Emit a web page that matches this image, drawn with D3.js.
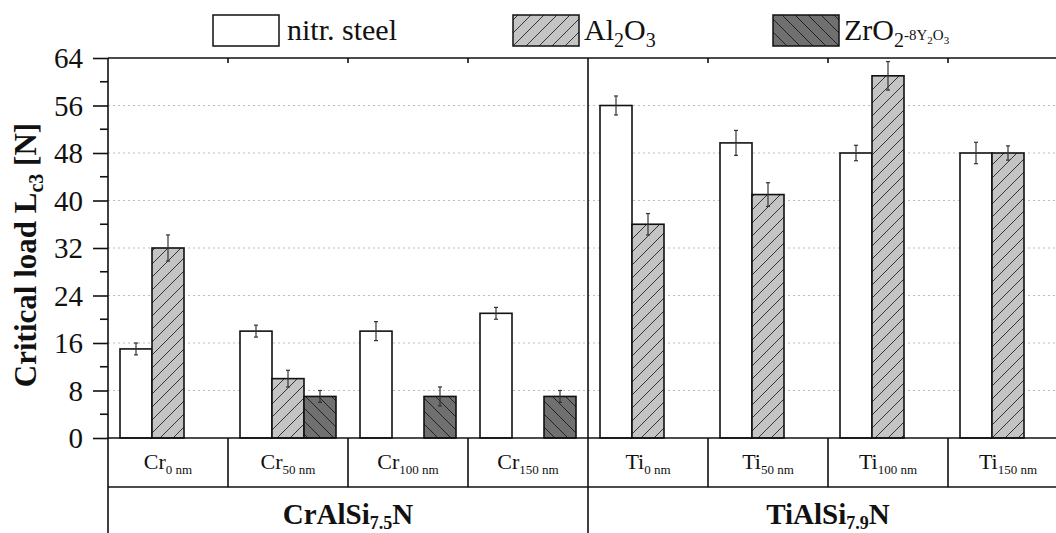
<!DOCTYPE html>
<html>
<head>
<meta charset="utf-8">
<script src="https://cdn.jsdelivr.net/npm/d3@7"></script>
<style>
body { margin:0; background:#fff; }
svg text { font-family:"Liberation Serif","Times New Roman",serif; }
</style>
</head>
<body>
<svg id="chart"></svg>
<script>
// data
var catElems = ["Cr","Cr","Cr","Cr","Ti","Ti","Ti","Ti"];
var catSubs = ["0 nm","50 nm","100 nm","150 nm","0 nm","50 nm","100 nm","150 nm"];
var groupNames = ["CrAlSi","TiAlSi"];
var groupSubs = ["7.5","7.9"];
var series = ["steel","al2o3","zro2"];
var steelVals = [15, 18, 18, 21, 56, 49.7, 48, 48];
var steelErr  = [1, 1, 1.6, 1, 1.6, 2.1, 1.3, 1.8];
var al2o3Vals = [32, 10, null, null, 36, 41, 61, 48];
var al2o3Err  = [2.2, 1.4, null, null, 1.8, 2, 2.4, 1.2];
var zro2Vals  = [null, 7, 7, 7, null, null, null, null];
var zro2Err   = [null, 1, 1.6, 1, null, null, null, null];
var yTicks = [0, 8, 16, 24, 32, 40, 48, 56, 64];

var width = 1056, height = 533;
var margins = {top:58, left:108, plotBottom:438, catRow:487};
var plotW = 960; // right border falls off the canvas like the original
var serif = "Liberation Serif, Times New Roman, serif";

var svg = d3.select("#chart").attr("width", width).attr("height", height)
    .attr("font-family", serif);

var defs = svg.append("defs");
var p1 = defs.append("pattern").attr("id","hatchAl").attr("patternUnits","userSpaceOnUse")
    .attr("width",13).attr("height",13);
p1.append("rect").attr("width",13).attr("height",13).attr("fill","#c4c4c4");
p1.append("path").attr("d","M-3,3 L3,-3 M0,13 L13,0 M10,16 L16,10")
    .attr("stroke","#333").attr("stroke-width",1);
var p2 = defs.append("pattern").attr("id","hatchZr").attr("patternUnits","userSpaceOnUse")
    .attr("width",13).attr("height",13);
p2.append("rect").attr("width",13).attr("height",13).attr("fill","#707070");
p2.append("path").attr("d","M-3,10 L3,16 M0,0 L13,13 M10,-3 L16,3")
    .attr("stroke","#222").attr("stroke-width",1);

var fills = {steel:"#fff", al2o3:"url(#hatchAl)", zro2:"url(#hatchZr)"};

var cats = d3.range(catElems.length);
var xScale = d3.scaleBand().domain(cats).range([margins.left, margins.left+plotW]);
var xInner = d3.scaleBand().domain(series).range([0, xScale.bandwidth()]).paddingOuter(0.375);
var yScale = d3.scaleLinear().domain([0,64]).range([margins.plotBottom, margins.top]);

// grid
svg.append("g").selectAll("line")
    .data(yTicks.filter(function(t){ return t>0 && t<64; }))
    .enter().append("line")
    .attr("x1", margins.left).attr("x2", margins.left+plotW)
    .attr("y1", function(d){ return yScale(d); })
    .attr("y2", function(d){ return yScale(d); })
    .attr("stroke","#bdbdbd").attr("stroke-width",1.2)
    .attr("stroke-dasharray","2,3");

// bars
var rows = [];
cats.forEach(function(i){
    rows.push({cat:i, s:"steel", v:steelVals[i], e:steelErr[i]});
    rows.push({cat:i, s:"al2o3", v:al2o3Vals[i], e:al2o3Err[i]});
    rows.push({cat:i, s:"zro2", v:zro2Vals[i], e:zro2Err[i]});
});
rows = rows.filter(function(r){ return r.v != null; });

svg.append("g").selectAll("rect").data(rows).enter().append("rect")
    .attr("x", function(r){ return xScale(r.cat)+xInner(r.s); })
    .attr("y", function(r){ return yScale(r.v); })
    .attr("width", xInner.bandwidth())
    .attr("height", function(r){ return yScale(0)-yScale(r.v); })
    .attr("fill", function(r){ return fills[r.s]; })
    .attr("stroke","#111").attr("stroke-width",1.6);

// error bars
var eb = svg.append("g").attr("stroke","#333").attr("stroke-width",1.2);
rows.forEach(function(r){
    var cx = xScale(r.cat)+xInner(r.s)+xInner.bandwidth()/2;
    var y1 = yScale(r.v+r.e), y2 = yScale(r.v-r.e);
    eb.append("line").attr("x1",cx).attr("x2",cx).attr("y1",y1).attr("y2",y2);
    eb.append("line").attr("x1",cx-2).attr("x2",cx+2).attr("y1",y1).attr("y2",y1);
    eb.append("line").attr("x1",cx-2).attr("x2",cx+2).attr("y1",y2).attr("y2",y2);
});

// frame and table lines
var frame = svg.append("g").attr("stroke","#111").attr("stroke-width",1.6);
frame.append("line").attr("x1",margins.left).attr("x2",margins.left+plotW)
    .attr("y1",margins.top).attr("y2",margins.top);
frame.append("line").attr("x1",margins.left).attr("x2",margins.left+plotW)
    .attr("y1",margins.plotBottom).attr("y2",margins.plotBottom);
frame.append("line").attr("x1",margins.left).attr("x2",margins.left+plotW)
    .attr("y1",margins.catRow).attr("y2",margins.catRow);
frame.append("line").attr("x1",margins.left).attr("x2",margins.left)
    .attr("y1",margins.top).attr("y2",height);
frame.append("line").attr("x1",xScale(4)).attr("x2",xScale(4))
    .attr("y1",margins.top).attr("y2",height);
cats.forEach(function(i){
    if (i===0 || i===4) return;
    var x = xScale(i);
    frame.append("line").attr("x1",x).attr("x2",x)
        .attr("y1",margins.plotBottom).attr("y2",margins.catRow);
    frame.append("line").attr("x1",x).attr("x2",x)
        .attr("y1",margins.top).attr("y2",margins.top+5);
});

// y axis
var yAxis = d3.axisLeft(yScale).tickValues(yTicks).tickSize(15).tickPadding(10);
var ya = svg.append("g").attr("transform","translate("+margins.left+",0)").call(yAxis);
ya.attr("font-family", serif);
ya.select(".domain").remove();
ya.selectAll(".tick line").attr("stroke","#111").attr("stroke-width",1.6);
ya.selectAll(".tick text").attr("font-size",29).attr("fill","#111").attr("dy","0.34em");
svg.append("g").selectAll("line")
    .data(yTicks.slice(0,-1).map(function(t){ return t+4; }))
    .enter().append("line")
    .attr("x1",margins.left-8).attr("x2",margins.left)
    .attr("y1",function(d){ return yScale(d); }).attr("y2",function(d){ return yScale(d); })
    .attr("stroke","#111").attr("stroke-width",1.6);

// y label
var yl = svg.append("text")
    .attr("transform","translate(36,255) rotate(-90)")
    .attr("text-anchor","middle").attr("font-weight","bold")
    .attr("font-size",31).attr("fill","#111");
yl.append("tspan").text("Critical load L");
yl.append("tspan").text("c3").attr("font-size",20).attr("dy",7);
yl.append("tspan").text(" [N]").attr("dy",-7);

// category labels
cats.forEach(function(i){
    var t = svg.append("text")
        .attr("x", xScale(i)+xScale.bandwidth()/2).attr("y",469)
        .attr("text-anchor","middle").attr("font-size",22).attr("fill","#111");
    t.append("tspan").text(catElems[i]);
    t.append("tspan").text(catSubs[i]).attr("font-size",13).attr("dy",5);
});

// group labels
groupNames.forEach(function(g, k){
    var cx = xScale(k*4) + xScale.bandwidth()*2;
    var t = svg.append("text").attr("x",cx).attr("y",524)
        .attr("text-anchor","middle").attr("font-size",29)
        .attr("font-weight","bold").attr("fill","#111");
    t.append("tspan").text(g);
    t.append("tspan").text(groupSubs[k]).attr("font-size",18).attr("dy",5);
    t.append("tspan").text("N").attr("dy",-5);
});

// legend
var legX = [213, 513, 773];
var leg = svg.append("g");
series.forEach(function(s, k){
    leg.append("rect").attr("x",legX[k]).attr("y",15).attr("width",66).attr("height",31)
        .attr("fill",fills[s]).attr("stroke","#111").attr("stroke-width",1.5);
});
leg.append("text").attr("x",287).attr("y",40).attr("font-size",30).attr("fill","#111")
    .text("nitr. steel");
var l2 = leg.append("text").attr("x",584).attr("y",40).attr("font-size",30).attr("fill","#111");
l2.append("tspan").text("Al");
l2.append("tspan").text("2").attr("font-size",20).attr("dy",7);
l2.append("tspan").text("O").attr("dy",-7);
l2.append("tspan").text("3").attr("font-size",20).attr("dy",7);
var l3 = leg.append("text").attr("x",844).attr("y",40).attr("font-size",30).attr("fill","#111");
l3.append("tspan").text("ZrO");
l3.append("tspan").text("2").attr("font-size",20).attr("dy",7);
l3.append("tspan").text("-8Y").attr("font-size",15).attr("dy",-7);
l3.append("tspan").text("2").attr("font-size",11).attr("dy",4);
l3.append("tspan").text("O").attr("font-size",15).attr("dy",-4);
l3.append("tspan").text("3").attr("font-size",11).attr("dy",4);
</script>
</body>
</html>
